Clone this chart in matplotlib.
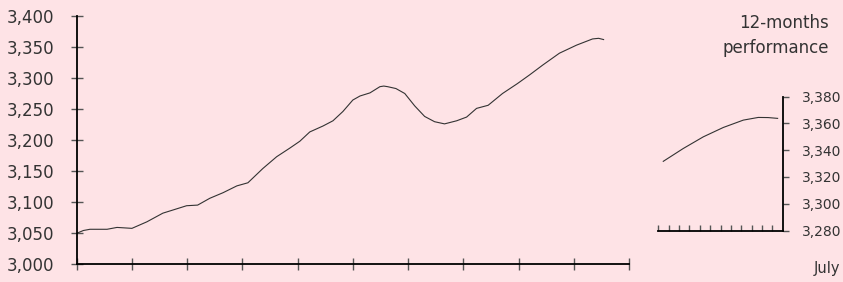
"""12-months performance chart"""

import matplotlib
matplotlib.use('Agg')
import matplotlib.pyplot as plt
from matplotlib.ticker import FuncFormatter

# Main series: x in tick intervals, index level
main_x = [0.00, 0.12, 0.24, 0.55, 0.73, 1.00, 1.27, 1.56, 1.74, 1.99, 2.19,
          2.41, 2.65, 2.90, 3.10, 3.37, 3.62, 3.86, 4.04, 4.22, 4.46,
          4.64, 4.82, 5.00, 5.13, 5.31, 5.49, 5.56, 5.63, 5.78, 5.94, 6.12, 6.30,
          6.48, 6.66, 6.88, 7.06, 7.24, 7.45, 7.71, 7.98, 8.20, 8.44,
          8.74, 9.05, 9.34, 9.45, 9.54]
main_y = [3049.5, 3054, 3056, 3056, 3059, 3057.5, 3068, 3082, 3087, 3094, 3095,
          3106, 3115, 3126, 3131, 3154, 3173, 3187, 3198, 3213, 3222.6,
          3231, 3246, 3264.5, 3271, 3276, 3286, 3287, 3286, 3283, 3275, 3255, 3238,
          3229.5, 3226, 3231, 3237, 3251, 3256, 3275, 3291, 3305, 3321,
          3340, 3353, 3363, 3364, 3362]
main_yticks = [3000, 3050, 3100, 3150, 3200, 3250, 3300, 3350, 3400]

# Inset: 12-months performance, x in months
perf_x = [0.48, 2.41, 4.34, 6.27, 8.20, 9.64, 10.6, 11.51]
perf_y = [3331.7, 3341.3, 3350, 3357, 3362.5, 3364.5, 3364.4, 3363.8]
perf_yticks = [3280, 3300, 3320, 3340, 3360, 3380]

bg = '#fee3e6'
txt = '#333333'
plt.rcParams['font.family'] = ['DejaVu Sans']

fig = plt.figure(figsize=(8.43, 2.82), dpi=100)
fig.patch.set_facecolor(bg)

comma = FuncFormatter(lambda v, p: f'{v:,.0f}')

# Main chart
ax = fig.add_axes([76.7 / 843, 1 - 264 / 282, (629 - 76.7) / 843, (264 - 16) / 282])
ax.set_facecolor(bg)
ax.plot(main_x, main_y, color='#333333', linewidth=0.8)
ax.set_xlim(0, 10)
ax.set_ylim(3000, 3400)
ax.set_xticks(range(11))
ax.set_xticklabels([])
ax.set_yticks(main_yticks)
ax.yaxis.set_major_formatter(comma)
for s in ['top', 'right']:
    ax.spines[s].set_visible(False)
for s in ['left', 'bottom']:
    ax.spines[s].set_linewidth(1.3)
    ax.spines[s].set_color('black')
ax.tick_params(direction='inout', length=8, width=1, color='#555555',
               labelsize=12, labelcolor=txt, pad=12)

# Inset chart
ax2 = fig.add_axes([658.3 / 843, 1 - 230.5 / 282, (782.7 - 658.3) / 843, (230.5 - 96.7) / 282])
ax2.set_facecolor(bg)
ax2.plot(perf_x, perf_y, color='#333333', linewidth=0.8)
ax2.set_xlim(0, 12)
ax2.set_ylim(3280, 3380)
ax2.set_xticks(range(12))
ax2.set_xticklabels([])
ax2.set_yticks(perf_yticks)
ax2.yaxis.set_major_formatter(comma)
ax2.yaxis.tick_right()
for s in ['top', 'left']:
    ax2.spines[s].set_visible(False)
for s in ['right', 'bottom']:
    ax2.spines[s].set_linewidth(1.3)
    ax2.spines[s].set_color('black')
ax2.tick_params(axis='x', direction='in', length=4, width=1, color='#555555')
ax2.tick_params(axis='y', direction='out', length=4, width=1, color='#555555',
                labelsize=10, labelcolor=txt, pad=10)

fig.text(828.5 / 843, 1 - 22.7 / 282, '12-months', ha='right', va='center',
         fontsize=12, color=txt)
fig.text(828.5 / 843, 1 - 48.3 / 282, 'performance', ha='right', va='center',
         fontsize=12, color=txt)
fig.text(840 / 843, 1 - 268.3 / 282, 'July', ha='right', va='center',
         fontsize=10.5, color=txt)

fig.savefig('out.png', dpi=100, facecolor=bg)
